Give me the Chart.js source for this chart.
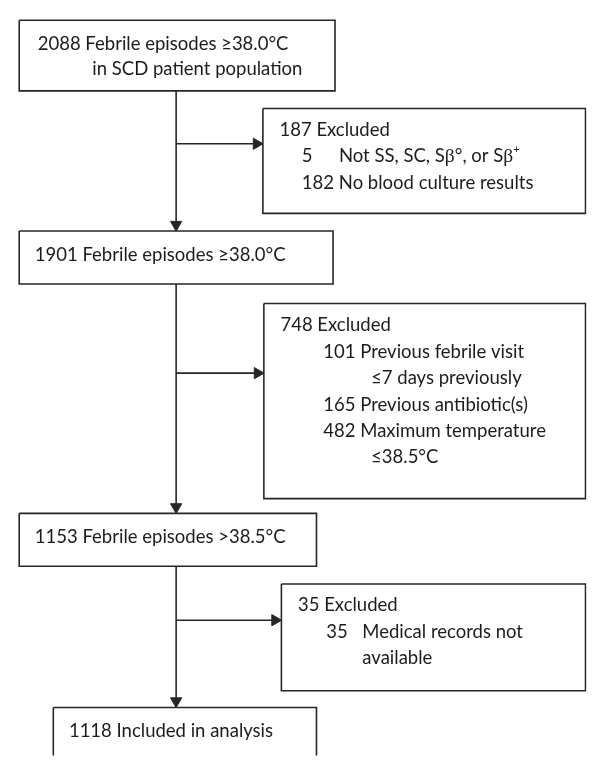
<!DOCTYPE html>
<html>
<head>
<meta charset="utf-8">
<script src="https://cdn.jsdelivr.net/npm/chart.js@4.4.0/dist/chart.umd.min.js"></script>
<style>
  html, body { margin: 0; padding: 0; background: #fff; }
  #wrap { width: 594px; height: 763px; }
</style>
</head>
<body>
<div id="wrap"><canvas id="flowChart"></canvas></div>
<script>
// flow counts and labels
const mainCounts = [2088, 1901, 1153, 1118];
const mainLabels = [
  'Febrile episodes ≥38.0°C\nin SCD patient population',
  'Febrile episodes ≥38.0°C',
  'Febrile episodes >38.5°C',
  'Included in analysis',
];
const excludedTotals = [187, 748, 35];
const reasonCounts = [[5, 182], [101, 165, 482], [35]];
const reasonLabels = [
  ['Not SS, SC, Sβ°, or Sβ⁺', 'No blood culture results'],
  ['Previous febrile visit\n≤7 days previously', 'Previous antibiotic(s)', 'Maximum temperature\n≤38.5°C'],
  ['Medical records not\navailable'],
];

// layout in chart units (1 unit = 1 px)
const mainBoxes = [
  { x0: 12, x1: 336, y0: 13, y1: 85, textX: [31, 87] },
  { x0: 12, x1: 334, y0: 228, y1: 282, textX: [28] },
  { x0: 12, x1: 317, y0: 516, y1: 570, textX: [28] },
  { x0: 47, x1: 317, y0: 714, y1: 790, textX: [63] },
];
const sideBoxes = [
  { x0: 262, x1: 593, y0: 103, y1: 210, arrowY: 139, countX: 302, labelX: [340, null], wrapX: 340 },
  { x0: 263, x1: 593, y0: 302, y1: 501, arrowY: 373, countX: 324, labelX: [null, null, null], wrapX: 373 },
  { x0: 281, x1: 593, y0: 588, y1: 697, arrowY: 625, countX: 327, labelX: [364], wrapX: 364 },
];
const trunkX = 173;

const lineColor = '#262626';
const textColor = '#1e1b1c';
const fontSize = 18.5;
const fontFamily = 'Lato, "Open Sans", sans-serif';
const arrowR = 6.5;

function polyline(points) {
  return {
    data: points,
    showLine: true,
    pointRadius: 0,
    borderColor: lineColor,
    borderWidth: 1.6,
    borderJoinStyle: 'miter',
    fill: false,
    tension: 0,
  };
}

function rect(b) {
  return polyline([
    { x: b.x0, y: b.y0 }, { x: b.x1, y: b.y0 },
    { x: b.x1, y: b.y1 }, { x: b.x0, y: b.y1 }, { x: b.x0, y: b.y0 },
  ]);
}

function buildDatasets() {
  const sets = [];
  const tips = [];
  const rots = [];
  mainBoxes.forEach((b) => sets.push(rect(b)));
  sideBoxes.forEach((b) => sets.push(rect(b)));

  // vertical trunk between the main boxes
  for (let i = 0; i < mainBoxes.length - 1; i++) {
    const top = mainBoxes[i].y1;
    const end = mainBoxes[i + 1].y0 - arrowR;
    sets.push(polyline([{ x: trunkX, y: top }, { x: trunkX, y: end }]));
    tips.push({ x: trunkX, y: end });
    rots.push(180);
  }
  // branches to the exclusion boxes
  sideBoxes.forEach((b) => {
    const end = b.x0 - arrowR;
    sets.push(polyline([{ x: trunkX, y: b.arrowY }, { x: end, y: b.arrowY }]));
    tips.push({ x: end, y: b.arrowY });
    rots.push(90);
  });

  sets.push({
    data: tips,
    showLine: false,
    pointStyle: 'triangle',
    pointRadius: arrowR,
    pointRotation: rots,
    pointBackgroundColor: lineColor,
    pointBorderColor: lineColor,
    pointBorderWidth: 1,
  });
  return sets;
}

// draws text, with β in a serif face and ⁺ as a small raised plus
function drawRich(ctx, text, x, y) {
  const base = fontSize + 'px ' + fontFamily;
  let cx = x;
  let run = '';
  const flush = () => {
    if (!run) return;
    ctx.font = base;
    ctx.fillText(run, cx, y);
    cx += ctx.measureText(run).width;
    run = '';
  };
  for (const ch of text) {
    if (ch === 'β') {
      flush();
      ctx.font = (fontSize + 1) + 'px "Liberation Serif", serif';
      ctx.fillText('β', cx, y);
      cx += ctx.measureText('β').width;
    } else if (ch === '⁺') {
      flush();
      ctx.font = Math.round(fontSize * 0.6) + 'px ' + fontFamily;
      ctx.fillText('+', cx, y - fontSize * 0.4);
      cx += ctx.measureText('+').width;
    } else {
      run += ch;
    }
  }
  flush();
  return cx;
}

const textPlugin = {
  id: 'boxText',
  afterDatasetsDraw(chart) {
    const ctx = chart.ctx;
    const xs = chart.scales.x;
    const ys = chart.scales.y;
    ctx.save();
    ctx.fillStyle = textColor;
    ctx.textBaseline = 'middle';
    ctx.textAlign = 'left';

    mainBoxes.forEach((b, i) => {
      const lines = (mainCounts[i] + ' ' + mainLabels[i]).split('\n');
      lines.forEach((line, j) => {
        const tx = b.textX[Math.min(j, b.textX.length - 1)];
        drawRich(ctx, line, xs.getPixelForValue(tx), ys.getPixelForValue(b.y0 + 24 + j * 26));
      });
    });

    sideBoxes.forEach((b, i) => {
      let row = 0;
      const rowY = () => ys.getPixelForValue(b.y0 + 22 + row * 27);
      drawRich(ctx, excludedTotals[i] + ' Excluded', xs.getPixelForValue(b.x0 + 17), rowY());
      row++;
      reasonCounts[i].forEach((count, k) => {
        const parts = reasonLabels[i][k].split('\n');
        const y = rowY();
        const end = drawRich(ctx, String(count), xs.getPixelForValue(b.countX), y);
        ctx.font = fontSize + 'px ' + fontFamily;
        const lx = b.labelX[k] != null ? xs.getPixelForValue(b.labelX[k]) : end + ctx.measureText(' ').width;
        drawRich(ctx, parts[0], lx, y);
        row++;
        for (let p = 1; p < parts.length; p++) {
          drawRich(ctx, parts[p], xs.getPixelForValue(b.wrapX), rowY());
          row++;
        }
      });
    });
    ctx.restore();
  },
};

new Chart(document.getElementById('flowChart').getContext('2d'), {
  type: 'scatter',
  data: { datasets: buildDatasets() },
  options: {
    responsive: true,
    maintainAspectRatio: false,
    animation: false,
    layout: { padding: 0 },
    plugins: { legend: { display: false }, tooltip: { enabled: false } },
    scales: {
      x: { type: 'linear', min: 0, max: 594, display: false },
      y: { type: 'linear', min: 0, max: 763, reverse: true, display: false },
    },
  },
  plugins: [textPlugin],
});
</script>
</body>
</html>
